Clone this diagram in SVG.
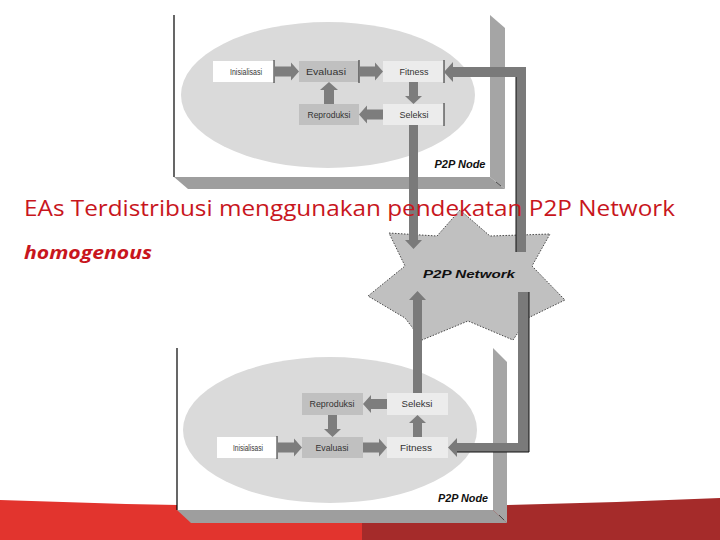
<svg xmlns="http://www.w3.org/2000/svg" width="720" height="540" viewBox="0 0 720 540">
<style>
.face{fill:#ffffff}
.edge{stroke:#000;stroke-width:1.2;fill:none}
.side{fill:#a5a5a5}
.bot{fill:#9e9e9e}
.ell{fill:#dadada}
.b1{fill:#ffffff}
.b2{fill:#c0c0c0}
.b3{fill:#ececec}
.bl{stroke:#222;stroke-width:1}
.lbl{font-family:"Liberation Sans",Arial,sans-serif;font-size:9px;fill:#333;text-anchor:middle}
.node{font-family:"Liberation Sans",Arial,sans-serif;font-size:10px;font-weight:bold;font-style:italic;fill:#111}
.arr{fill:#7d7d7d}
.bar{fill:#7a7a7a}
.barD{fill:#6c6c6c}
.title{font-family:"Open Sans","Liberation Sans",sans-serif;fill:#c8161d}
</style>

<g id="background-band">
<path d="M0,500 Q181,507 362,507 L362,540 L0,540 Z" fill="#e2342e"/>
<path d="M362,507 Q540,506 720,498 L720,540 L362,540 Z" fill="#a52b2a"/>
</g>

<g id="star-network">
<polygon points="389,233 437,236 460,210 490,236 550,234 532,266 565,300 528,318 513,340 468,321 422,340 405,318 368,296 405,266" fill="#c0c0c0" stroke="#222" stroke-width="0.8" stroke-dasharray="1.5,1.5"/>
<text x="469" y="278" class="node" font-size="13" text-anchor="middle" textLength="92" lengthAdjust="spacingAndGlyphs">P2P Network</text>
</g>

<g id="node-top">
<rect x="174" y="15" width="316" height="162" class="face"/>
<polygon points="490,15 505,28 505,189 490,177" class="side"/>
<polygon points="174,177 490,177 505,189 188,189" class="bot"/>
<line x1="174" y1="15" x2="174" y2="177" class="edge"/>
<line x1="496" y1="182" x2="501" y2="186" stroke="#333" stroke-width="0.8"/>
<ellipse cx="328" cy="95" rx="147" ry="73" class="ell"/>
<text x="460" y="168" class="node" text-anchor="middle" textLength="51" lengthAdjust="spacingAndGlyphs">P2P Node</text>
<g id="top-inisialisasi"><rect x="213" y="61" width="61" height="21" class="b1"/><line x1="274" y1="60" x2="274" y2="83" class="bl"/><text x="246" y="75" class="lbl" textLength="32" lengthAdjust="spacingAndGlyphs">Inisialisasi</text></g>
<g id="top-evaluasi"><rect x="299" y="61" width="60" height="21" class="b2"/><line x1="359" y1="60" x2="359" y2="83" class="bl"/><text x="326" y="75" class="lbl" textLength="40" lengthAdjust="spacingAndGlyphs">Evaluasi</text></g>
<g id="top-fitness"><rect x="383" y="61" width="61" height="21" class="b3"/><line x1="444" y1="60" x2="444" y2="83" class="bl"/><text x="414" y="75" class="lbl" textLength="29" lengthAdjust="spacingAndGlyphs">Fitness</text></g>
<g id="top-reproduksi"><rect x="299" y="104" width="60" height="21" class="b2"/><text x="329" y="118" class="lbl" textLength="43" lengthAdjust="spacingAndGlyphs">Reproduksi</text></g>
<g id="top-seleksi"><rect x="383" y="104" width="61" height="21" class="b3"/><line x1="444" y1="103" x2="444" y2="126" class="bl"/><text x="414" y="118" class="lbl" textLength="29" lengthAdjust="spacingAndGlyphs">Seleksi</text></g>
<g id="top-arrows">
<path d="M274,66.5 H291 V62.5 L299,71.5 L291,80.5 V76.5 H274Z" class="arr"/>
<path d="M359,66.5 H375 V62.5 L383,71.5 L375,80.5 V76.5 H359Z" class="arr"/>
<path d="M324,104 V90 H320 L329,82 L338,90 H334 V104Z" class="arr"/>
<path d="M409,82 V96 H405 L413.5,104 L422,96 H418 V82Z" class="arr"/>
<path d="M383,109.5 H367 V105.5 L359,114.5 L367,123.5 V119.5 H383Z" class="arr"/>
</g>
</g>

<g id="node-bottom">
<rect x="177" y="348" width="316" height="162" class="face"/>
<polygon points="493,348 507,362 507,523 493,510" class="side"/>
<polygon points="177,510 493,510 507,523 191,523" class="bot"/>
<line x1="177" y1="348" x2="177" y2="510" class="edge"/>
<line x1="499" y1="515" x2="504" y2="520" stroke="#333" stroke-width="0.8"/>
<ellipse cx="330" cy="430" rx="147" ry="73" class="ell"/>
<text x="463" y="502" class="node" text-anchor="middle" textLength="50" lengthAdjust="spacingAndGlyphs">P2P Node</text>
<g id="bot-reproduksi"><rect x="302" y="393" width="61" height="22" class="b2"/><text x="332" y="407" class="lbl" textLength="45" lengthAdjust="spacingAndGlyphs">Reproduksi</text></g>
<g id="bot-seleksi"><rect x="387" y="393" width="61" height="22" class="b3"/><text x="417" y="407" class="lbl" textLength="31" lengthAdjust="spacingAndGlyphs">Seleksi</text></g>
<g id="bot-inisialisasi"><rect x="217" y="437" width="60" height="21" class="b1"/><line x1="277" y1="436" x2="277" y2="459" class="bl"/><text x="248" y="451" class="lbl" textLength="30" lengthAdjust="spacingAndGlyphs">Inisialisasi</text></g>
<g id="bot-evaluasi"><rect x="302" y="437" width="61" height="21" class="b2"/><text x="332" y="451" class="lbl" textLength="33" lengthAdjust="spacingAndGlyphs">Evaluasi</text></g>
<g id="bot-fitness"><rect x="387" y="437" width="61" height="21" class="b3"/><text x="416" y="451" class="lbl" textLength="32" lengthAdjust="spacingAndGlyphs">Fitness</text></g>
<g id="bot-arrows">
<path d="M277,442.5 H294 V438.5 L302,447.5 L294,456.5 V452.5 H277Z" class="arr"/>
<path d="M363,442.5 H379 V438.5 L387,447.5 L379,456.5 V452.5 H363Z" class="arr"/>
<path d="M328,415 V429 H324 L332.5,437 L341,429 H337 V415Z" class="arr"/>
<path d="M413,437 V423 H409 L417.5,415 L426,423 H422 V437Z" class="arr"/>
<path d="M387,399 H371 V395 L363,404 L371,413 V409 H387Z" class="arr"/>
</g>
</g>

<g id="connectors">
<path d="M409,125 V240 H405 L413.5,249 L422,240 H418 V125Z" class="bar"/>
<path d="M516,252 V77 H453 V82 L444,72 L453,62 V67 H526 V252 Z" class="bar"/>
<line x1="516" y1="77" x2="516" y2="252" stroke="#111" stroke-width="1"/>
<path d="M413,393 V300 H409 L417.5,291 L426,300 H422 V393Z" class="bar"/>
<path d="M518,292 H529 V452 H457 V457 L448,447.5 L457,438 V443 H518 Z" class="bar"/>
<path d="M529,292 V452 H457" fill="none" stroke="#111" stroke-width="1"/>
</g>

<g id="titles">
<text x="24" y="216" class="title" font-size="22" textLength="651" lengthAdjust="spacingAndGlyphs">EAs Terdistribusi menggunakan pendekatan P2P Network</text>
<text x="24" y="259" class="title" font-size="18" font-weight="bold" font-style="italic" textLength="128" lengthAdjust="spacingAndGlyphs">homogenous</text>
</g>
</svg>
